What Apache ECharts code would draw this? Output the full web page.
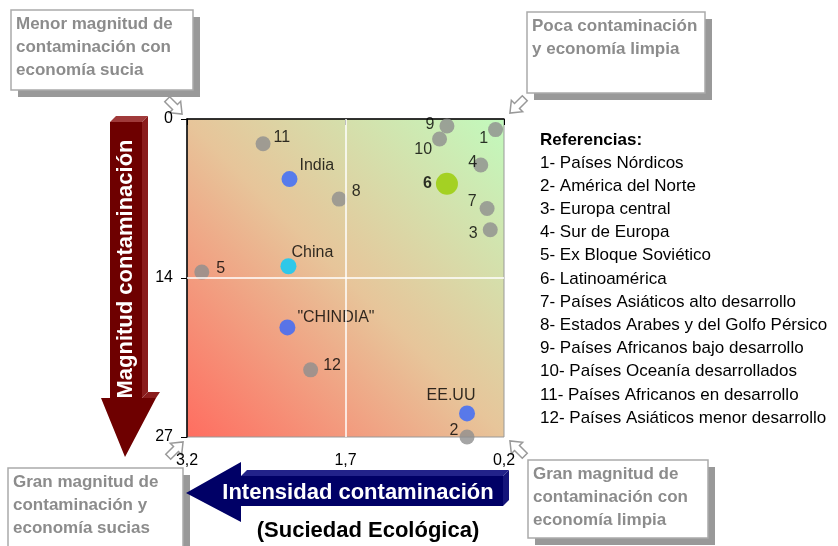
<!DOCTYPE html>
<html>
<head>
<meta charset="utf-8">
<script src="https://cdn.jsdelivr.net/npm/echarts@6/dist/echarts.min.js"></script>
<style>
  html, body { margin: 0; padding: 0; background: #fff; }
  #chart { width: 838px; height: 546px; }
</style>
</head>
<body>
<div id="chart"></div>
<script>
// regiones (numeradas) y países destacados
const regionIds = ['1', '2', '3', '4', '5', '6', '7', '8', '9', '10', '11', '12']
const regionX = [0.28, 0.55, 0.33, 0.42, 3.06, 0.74, 0.36, 1.76, 0.74, 0.81, 2.48, 2.03]
const regionY = [0.9, 27, 9.4, 3.9, 13.0, 5.5, 7.6, 6.8, 0.6, 1.7, 2.1, 21.3]

const countryNames = ['India', 'China', '"CHINDIA"', 'EE.UU']
const countryX = [2.23, 2.24, 2.25, 0.55]
const countryY = [5.1, 12.5, 17.7, 25.0]

const xTicks = [0.2, 1.7, 3.2]
const yTicks = [0, 13.5, 27]

const referencias = [
  '1- Países Nórdicos',
  '2- América del Norte',
  '3- Europa central',
  '4- Sur de Europa',
  '5- Ex Bloque Soviético',
  '6- Latinoamérica',
  '7- Países Asiáticos alto desarrollo',
  '8- Estados Arabes y del Golfo Pérsico',
  '9- Países Africanos bajo desarrollo',
  '10- Países Oceanía desarrollados',
  '11- Países Africanos en desarrollo',
  '12- Países Asiáticos menor desarrollo',
]

const FONT = "'Liberation Sans', Arial, sans-serif"

// label placement for each point (style only)
const regionLabel = [
  ['left', [5, 9]],
  ['left', [4, -6]],
  ['left', [0, 4]],
  ['left', [9, -2]],
  ['right', [2, -4]],
  ['left', [1, 0]],
  ['left', [2, -7]],
  ['right', [0, -7]],
  ['left', [0, -1]],
  ['left', [5, 11]],
  ['right', [-2, -6]],
  ['right', [0, -4]],
]
const countryLabel = [
  ['right', [-3, -13]],
  ['top', [24, 7]],
  ['right', [-3, -10]],
  ['top', [-16, 3]],
]
const countryColor = ['#3366ff', '#00ccff', '#3366ff', '#3366ff']

const chart = echarts.init(document.getElementById('chart'))

const regionData = regionIds.map((id, i) => ({
  name: id,
  value: [regionX[i], regionY[i]],
  symbolSize: id === '6' ? 22 : 15,
  itemStyle: { color: id === '6' ? '#99cc00' : '#8f8f8f' },
  label: {
    position: regionLabel[i][0],
    offset: regionLabel[i][1],
    fontWeight: id === '6' ? 'bold' : 'normal',
  },
}))

const countryData = countryNames.map((n, i) => ({
  name: n,
  value: [countryX[i], countryY[i]],
  symbolSize: 16,
  itemStyle: { color: countryColor[i] },
  label: { position: countryLabel[i][0], offset: countryLabel[i][1] },
}))

function callout(x, y, w, h, lines) {
  return [
    { type: 'rect', shape: { x: x + 7, y: y + 7, width: w, height: h }, style: { fill: '#999' } },
    { type: 'rect', shape: { x: x, y: y, width: w, height: h }, style: { fill: '#fff', stroke: '#aaa', lineWidth: 1.5 } },
    {
      type: 'text', x: x + 5, y: y + 3,
      style: { text: lines.join('\n'), fill: '#8c8c8c', font: 'bold 17px ' + FONT, lineHeight: 23 },
    },
  ]
}

function smallArrow(cx, cy, rot) {
  return {
    type: 'polygon', x: cx, y: cy, rotation: rot,
    shape: { points: [[-11, -3.5], [0, -3.5], [0, -8], [10, 0], [0, 8], [0, 3.5], [-11, 3.5]] },
    style: { fill: '#fff', stroke: '#999', lineWidth: 1.5 },
  }
}

const graphics = [
  ...callout(11, 10, 182, 80, ['Menor magnitud de', 'contaminación con', 'economía sucia']),
  ...callout(527, 12, 178, 81, ['Poca contaminación', 'y economía limpia']),
  ...callout(8, 468, 175, 90, ['Gran magnitud de', 'contaminación y', 'economía sucias']),
  ...callout(528, 460, 180, 78, ['Gran magnitud de', 'contaminación con', 'economía limpia']),
  smallArrow(175, 107, -Math.PI / 4),
  smallArrow(517, 106, -3 * Math.PI / 4),
  smallArrow(176, 449, Math.PI / 4),
  smallArrow(517, 448, 3 * Math.PI / 4),
  // flecha vertical roja
  { type: 'polygon', shape: { points: [[110, 122], [116, 116], [148, 116], [142, 122]] }, style: { fill: '#a03a3a' } },
  { type: 'polygon', shape: { points: [[142, 122], [148, 116], [148, 392], [142, 398]] }, style: { fill: '#8a1c1c' } },
  {
    type: 'polygon',
    shape: { points: [[110, 122], [142, 122], [142, 398], [156, 398], [125, 457], [101, 398], [110, 398]] },
    style: { fill: '#6e0000' },
  },
  { type: 'polygon', shape: { points: [[142, 398], [148, 392], [160, 392], [156, 398]] }, style: { fill: '#8a1c1c' } },
  {
    type: 'text', x: 126, y: 269, rotation: Math.PI / 2,
    style: { text: 'Magnitud contaminación', fill: '#fff', font: 'bold 22px ' + FONT, align: 'center', verticalAlign: 'middle' },
  },
  // flecha horizontal azul
  { type: 'polygon', shape: { points: [[241, 476], [247, 470], [509, 470], [503, 476]] }, style: { fill: '#22228a' } },
  { type: 'polygon', shape: { points: [[503, 476], [509, 470], [509, 500], [503, 506]] }, style: { fill: '#15157a' } },
  {
    type: 'polygon',
    shape: { points: [[186, 493], [241, 462], [241, 476], [503, 476], [503, 506], [241, 506], [241, 522]] },
    style: { fill: '#000066' },
  },
  {
    type: 'text', x: 358, y: 493,
    style: { text: 'Intensidad contaminación', fill: '#fff', font: 'bold 22px ' + FONT, align: 'center', verticalAlign: 'middle' },
  },
  {
    type: 'text', x: 368, y: 531,
    style: { text: '(Suciedad Ecológica)', fill: '#000', font: 'bold 22px ' + FONT, align: 'center', verticalAlign: 'middle' },
  },
  // referencias
  {
    type: 'text', x: 540, y: 140,
    style: { text: 'Referencias:', fill: '#000', font: 'bold 17px ' + FONT, verticalAlign: 'middle' },
  },
  ...referencias.map((r, i) => ({
    type: 'text', x: 540, y: 163 + i * 23.2,
    style: { text: r, fill: '#000', font: '17px ' + FONT, verticalAlign: 'middle' },
  })),
]

const option = {
  animation: false,
  grid: {
    left: 187, top: 119, right: 334, bottom: 109,
    show: true,
    borderColor: '#999',
    borderWidth: 1,
    backgroundColor: new echarts.graphic.LinearGradient(0, 1, 1, 0, [
      { offset: 0, color: '#ff6d60' },
      { offset: 0.5, color: '#e7c59a' },
      { offset: 1, color: '#c2fabd' },
    ]),
  },
  xAxis: {
    type: 'value',
    inverse: true,
    min: 0.2,
    max: 3.2,
    axisLine: { show: true, lineStyle: { color: '#000', width: 1.5 } },
    axisTick: { show: true, length: 6, lineStyle: { color: '#000' }, customValues: xTicks },
    axisLabel: {
      customValues: xTicks,
      margin: 16,
      color: '#000',
      fontSize: 16,
      fontFamily: FONT,
      formatter: (v) => v.toFixed(1).replace('.', ','),
    },
    splitLine: { show: false },
  },
  yAxis: {
    type: 'value',
    inverse: true,
    min: 0,
    max: 27,
    interval: 13.5,
    axisLine: { show: true, lineStyle: { color: '#000', width: 1.5 } },
    axisTick: { show: true, length: 6, lineStyle: { color: '#000' } },
    axisLabel: {
      margin: 14,
      color: '#000',
      fontSize: 16,
      fontFamily: FONT,
      formatter: (v) => String(Math.round(v)),
    },
    splitLine: { show: false },
  },
  series: [
    {
      type: 'scatter',
      z: 3,
      data: regionData,
      label: { show: true, formatter: '{b}', color: '#000', fontSize: 16, fontFamily: FONT },
      markLine: {
        silent: true,
        symbol: 'none',
        label: { show: false },
        lineStyle: { color: '#fff', type: 'solid', width: 1.5 },
        data: [{ xAxis: xTicks[1] }, { yAxis: yTicks[1] }],
      },
    },
    {
      type: 'scatter',
      z: 4,
      data: countryData,
      label: { show: true, formatter: '{b}', color: '#000', fontSize: 16, fontFamily: FONT },
    },
  ],
  graphic: graphics,
}

chart.setOption(option)
</script>
</body>
</html>
